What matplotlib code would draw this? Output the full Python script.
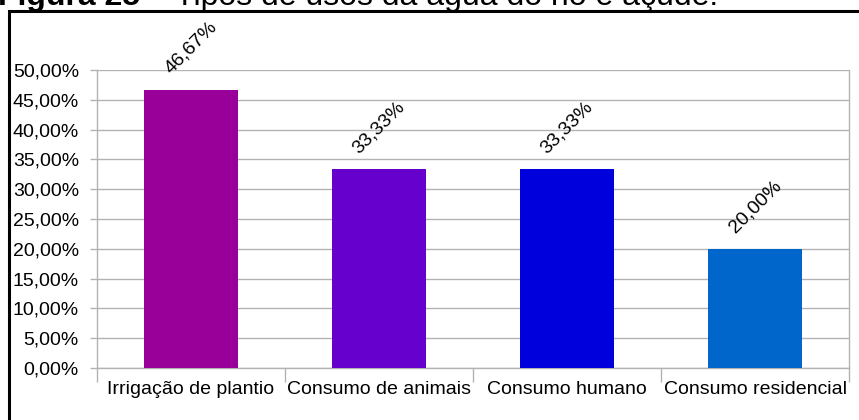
import numpy as np
import matplotlib
matplotlib.use("Agg")
import matplotlib.pyplot as plt
from matplotlib.patches import Rectangle
from matplotlib.ticker import FuncFormatter, FixedLocator

plt.rcParams['font.family'] = ['Liberation Sans', 'DejaVu Sans']

# data
categories = ["Irrigação de plantio", "Consumo de animais", "Consumo humano", "Consumo residencial"]
values = [46.67, 33.33, 33.33, 20.00]
bar_colors = ["#990099", "#6600cc", "#0000dd", "#0066cc"]
caption_bold = "Figura 25"
caption_rest = " – Tipos de usos da água do rio e açude."


def pct(v, pos=None):
    return ("%.2f%%" % v).replace(".", ",")


fig = plt.figure(figsize=(8.59, 4.2), dpi=100)
ax = fig.add_axes([97 / 859, 52 / 420, 752 / 859, 298 / 420])

x = np.arange(len(categories))
ax.bar(x, values, width=0.5, color=bar_colors, zorder=3)
for xi, v in zip(x, values):
    ax.annotate(pct(v), (xi, v), xytext=(0, 9), textcoords="offset points",
                rotation=45, ha="center", va="bottom", fontsize=14, zorder=4)

ax.set_xlim(-0.5, len(categories) - 0.5)
ax.set_ylim(0, 50)
ax.set_yticks(np.arange(0, 50.1, 5))
ax.yaxis.set_major_formatter(FuncFormatter(pct))
ax.yaxis.grid(True, color="#b3b3b3", lw=1, zorder=0)

ax.set_xticks(x)
ax.set_xticklabels(categories)
ax.xaxis.set_minor_locator(FixedLocator(np.arange(-0.5, len(categories), 1)))
ax.tick_params(axis="x", which="major", length=0, pad=9, labelsize=14)
ax.tick_params(axis="x", which="minor", length=10, color="#b3b3b3", width=1)
ax.tick_params(axis="y", length=5, color="#b3b3b3", width=1, pad=8, labelsize=14)

for side in ["left", "bottom", "right"]:
    ax.spines[side].set_color("#b3b3b3")
    ax.spines[side].set_linewidth(1)
ax.spines["top"].set_visible(False)

# black frame round the figure, cut by the page edge
fig.patches.append(Rectangle((8.5 / 859, -0.2), 1.2, 1.2 - 10.5 / 420,
                             transform=fig.transFigure, fill=False,
                             edgecolor="black", lw=2.2, zorder=10))

# caption, mostly above the picture's top edge
t1 = fig.text(-2 / 859, 1 - 5 / 420, caption_bold, fontsize=23, fontweight="bold",
              va="baseline", ha="left")
fig.canvas.draw()
bb = t1.get_window_extent()
fig.text(bb.x1 / fig.bbox.width, 1 - 5 / 420, caption_rest, fontsize=23,
         va="baseline", ha="left")

fig.savefig("out.png", dpi=100)
